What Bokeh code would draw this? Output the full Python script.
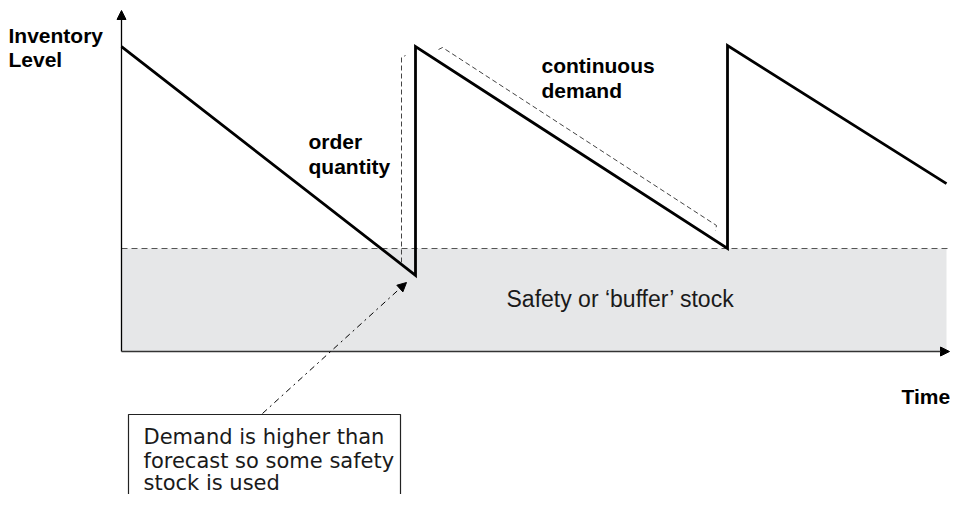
from bokeh.plotting import figure
from bokeh.models import Range1d, Arrow, NormalHead
from bokeh.core.properties import value
from bokeh.embed import file_html
from bokeh.resources import INLINE

# ---- data (time units, inventory level units; safety stock = 1) ----
cycle_time = [0.0, 2.94, 2.94, 6.06, 6.06, 8.25]
inventory_level = [2.96, 0.74, 2.96, 1.00, 2.97, 1.63]
safety_stock = 1.0
horizon = 8.25

bold_labels = ["Inventory", "Level", "order", "quantity", "continuous", "demand", "Time"]
note_lines = ["Demand is higher than", "forecast so some safety", "stock is used"]
safety_label = "Safety or \u2018buffer\u2019 stock"

# ---- layout mapping (picture pixels -> data units) ----
W, H = 950, 494
X0, Y0, SX, SY = 121.0, 351.0, 100.0, 103.0


def tx(px):
    return (px - X0) / SX


def ly(py):
    return (Y0 - py) / SY


p = figure(width=W, height=H, output_backend="svg", toolbar_location=None,
           x_range=Range1d(tx(0), tx(W)), y_range=Range1d(ly(H), ly(0)),
           x_axis_location=None, y_axis_location=None, min_border=0,
           outline_line_color=None)
p.grid.visible = False
p.background_fill_color = "white"

FONT = value("Liberation Sans")

# safety stock area
p.quad(left=0, right=horizon, bottom=0, top=safety_stock,
       fill_color="#e6e7e8", line_color=None)
# safety stock dashed line
p.line([0, tx(966)], [safety_stock, safety_stock], line_color="#555555",
       line_width=1.2, line_dash="6 4")

# axes
p.add_layout(Arrow(end=NormalHead(size=9, fill_color="black", line_color="black"),
                   x_start=0, y_start=0, x_end=0, y_end=ly(10),
                   line_color="black", line_width=1.3))
p.add_layout(Arrow(end=NormalHead(size=9, fill_color="black", line_color="black"),
                   x_start=0, y_start=0, x_end=tx(949), y_end=0,
                   line_color="#333333", line_width=1.5))

# sawtooth
p.line(cycle_time, inventory_level, line_color="black", line_width=2.8,
       line_join="miter")

# order quantity dashed bracket
p.line([tx(401), tx(401), tx(405)], [ly(262), ly(57), ly(55)],
       line_color="#444444", line_width=1, line_dash="5 3")
# continuous demand dashed bracket
p.line([tx(438), tx(442), tx(716), tx(715)], [ly(49), ly(47), ly(225), ly(230)],
       line_color="#444444", line_width=1, line_dash="5 3")

# annotation box
p.line([tx(128), tx(128), tx(400), tx(400)], [ly(520), ly(414), ly(414), ly(520)],
       line_color="#222222", line_width=1.2)
p.add_layout(Arrow(end=NormalHead(size=9, fill_color="black", line_color="black"),
                   x_start=tx(262), y_start=ly(413), x_end=tx(406), y_end=ly(282),
                   line_color="black", line_width=1, line_dash="dashdot"))

# bold labels
lab_x = [tx(8), tx(8), tx(308), tx(308), tx(541), tx(541), tx(901)]
lab_y = [ly(35), ly(59), ly(141), ly(166), ly(65), ly(90), ly(396)]
p.text(x=lab_x, y=lab_y, text=bold_labels, text_font=FONT, text_font_style="bold",
       text_font_size="21px", text_color="black", text_baseline="middle",
       text_align="left")

p.text(x=[tx(506)], y=[ly(298)], text=[safety_label], text_font=FONT,
       text_font_size="23px", text_color="#1a1a1a", text_baseline="middle",
       text_align="left")

p.text(x=[tx(143)] * 3, y=[ly(436), ly(460), ly(482)], text=note_lines,
       text_font=value("DejaVu Sans"), text_font_size="21px", text_color="#1a1a1a",
       text_baseline="middle", text_align="left")

open("out.html", "w").write(file_html(p, INLINE))
